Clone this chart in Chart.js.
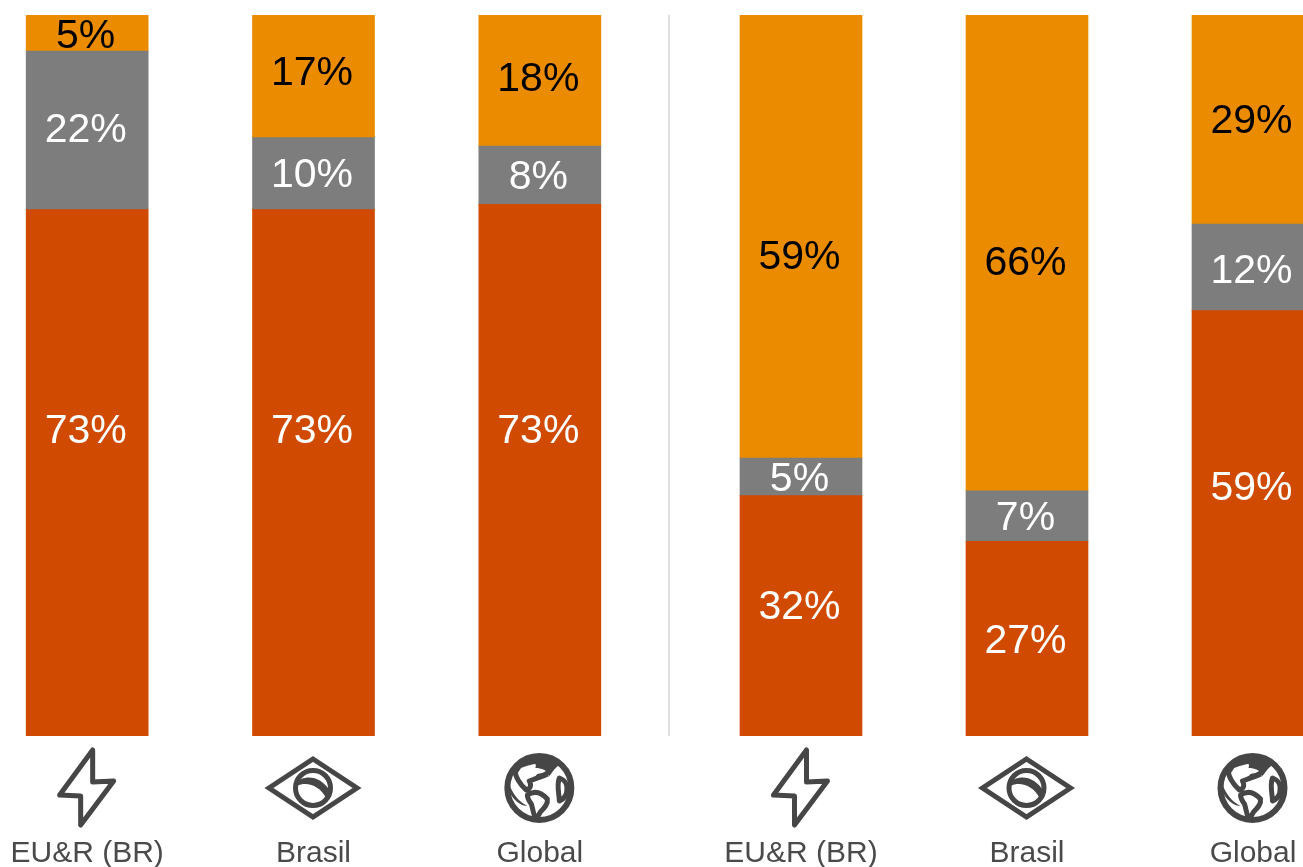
<!DOCTYPE html>
<html>
<head>
<meta charset="utf-8">
<title>Chart</title>
<script src="https://cdn.jsdelivr.net/npm/chart.js@4"></script>
<style>
  html, body { margin: 0; padding: 0; background: #fff; overflow: hidden; }
  body { position: relative; width: 1303px; height: 867px; }
  canvas { position: absolute; top: 0; }
  #leftChart { left: -26px; }
  #rightChart { left: 688px; }
  #divider { position: absolute; left: 668px; top: 15px; width: 2px; height: 721px; background: #dedede; }
</style>
</head>
<body>
<canvas id="leftChart" width="679" height="867"></canvas>
<div id="divider"></div>
<canvas id="rightChart" width="678" height="867"></canvas>
<script>
const categories = ["EU&R (BR)", "Brasil", "Global"];
const icons = ["bolt", "flag", "globe"];

const leftBase = [73, 73, 73];
const leftMiddle = [22, 10, 8];
const leftTop = [5, 17, 18];

const rightBase = [32, 27, 59];
const rightMiddle = [5, 7, 12];
const rightTop = [59, 66, 29];

// hand placement of the percentages, pixels from the segment centre
const leftNudge = [[-44, -44, -41], [-3, -1, -1], [1, -6, -4]];
const rightNudge = [[-11, 0, -38], [0, 0, 1], [18, 8, -1]];

const RED = "#D04A02";
const GREY = "#7D7D7D";
const ORANGE = "#EB8C00";
const ICON_INK = "#464646";

const boltPath = new Path2D("M6 -38 V-6 L27 -7 L-6 37 V8 L-27 7 Z");
const flagPath = new Path2D("M0 -29 L44 0 L0 29 L-44 0 Z");
const flagBand = new Path2D("M-17 -5 C-10 -13 8 -14 18 5 L13 10 C7 -2 -6 -7 -16 -2 Z");
const globeLand = new Path2D(
  "M-20 -22 C-12 -25 -4 -28 5 -27 C12 -25 11 -18 8 -15 C2 -11 -3 -10 -10 -7 " +
  "C-8 -3 -8 0 -13 2 C-20 -4 -24 -12 -24 -16 Z " +
  "M-12 7 C-6 3 1 3 8 11 C9 16 5 20 1 24 L-3 31 C-6 28 -6 22 -8 16 C-11 12 -12 10 -12 7 Z " +
  "M20 -10 C26 -8 29 -4 27 6 C25 11 22 12 20 13 C20 6 17 -3 20 -10 Z"
);
const globeCap = new Path2D(
  "M-10 -30 C0 -36 16 -33 24 -24 C18 -24 15 -18 10 -12 C8 -18 2 -20 -4 -20 C-2 -24 -6 -27 -10 -30 Z " +
  "M-30 -4 C-27 6 -20 14 -12 18 C-18 18 -28 12 -31 0 Z " +
  "M-2 -14 C3 -16 7 -14 10 -12 C4 -9 -1 -8 -8 -6 C-6 -9 -4 -12 -2 -14 Z"
);

function drawIcon(ctx, name) {
  ctx.strokeStyle = ICON_INK;
  ctx.fillStyle = ICON_INK;
  ctx.lineWidth = 5;
  if (name === "bolt") {
    ctx.lineJoin = "round";
    ctx.stroke(boltPath);
  } else if (name === "flag") {
    ctx.lineJoin = "miter";
    ctx.stroke(flagPath);
    ctx.beginPath();
    ctx.arc(0, 0, 17.5, 0, Math.PI * 2);
    ctx.stroke();
    ctx.fill(flagBand);
  } else {
    ctx.lineJoin = "round";
    ctx.lineWidth = 6;
    ctx.beginPath();
    ctx.arc(0, 0, 32, 0, Math.PI * 2);
    ctx.stroke();
    ctx.lineWidth = 5;
    ctx.stroke(globeLand);
    ctx.fill(globeCap);
  }
}

const iconRow = {
  id: "iconRow",
  afterDraw(chart) {
    const { ctx, scales } = chart;
    icons.forEach((name, i) => {
      ctx.save();
      ctx.translate(scales.x.getPixelForTick(i) - 0.5, 788);
      drawIcon(ctx, name);
      ctx.restore();
    });
  }
};

const segmentLabels = {
  id: "segmentLabels",
  afterDatasetsDraw(chart) {
    const { ctx } = chart;
    ctx.save();
    ctx.font = "41px 'Liberation Sans', Arial, sans-serif";
    ctx.textAlign = "center";
    ctx.textBaseline = "middle";
    chart.data.datasets.forEach((ds, d) => {
      chart.getDatasetMeta(d).data.forEach((bar, i) => {
        const mid = (bar.y + bar.base) / 2 + ds.nudge[i] + 3;
        ctx.fillStyle = ds.labelColor;
        ctx.fillText(ds.raw[i] + "%", bar.x - 1.5, mid);
      });
    });
    ctx.restore();
  }
};

// each column fills the full height, so the parts are taken as shares of their column total
function shares(series, others) {
  return series.map((v, i) => v / others.reduce((sum, s) => sum + s[i], 0) * 100);
}

function buildChart(id, base, middle, top, nudge) {
  const all = [base, middle, top];
  const makeSet = (values, color, labelColor, n) => ({
    data: shares(values, all),
    raw: values,
    nudge: n,
    labelColor: labelColor,
    backgroundColor: color,
    barThickness: 122
  });
  return new Chart(document.getElementById(id), {
    type: "bar",
    data: {
      labels: categories,
      datasets: [
        makeSet(base, RED, "#ffffff", nudge[0]),
        makeSet(middle, GREY, "#ffffff", nudge[1]),
        makeSet(top, ORANGE, "#000000", nudge[2])
      ]
    },
    options: {
      responsive: false,
      animation: false,
      layout: { padding: { top: 15, left: 0, right: 0, bottom: 0 } },
      plugins: { legend: { display: false }, tooltip: { enabled: false } },
      scales: {
        x: {
          stacked: true,
          grid: { display: false, drawTicks: false },
          border: { display: false },
          // fixed axis band, and no side margin for the outer tick labels
          afterFit(scale) {
            scale.height = 131;
            scale.paddingLeft = 0;
            scale.paddingRight = 0;
          },
          ticks: {
            color: "#4a4a4a",
            padding: 100,
            maxRotation: 0,
            font: { family: "'Liberation Sans', Arial, sans-serif", size: 30 }
          }
        },
        y: { stacked: true, display: false, min: 0, max: 100 }
      }
    },
    plugins: [segmentLabels, iconRow]
  });
}

buildChart("leftChart", leftBase, leftMiddle, leftTop, leftNudge);
buildChart("rightChart", rightBase, rightMiddle, rightTop, rightNudge);
</script>
</body>
</html>
